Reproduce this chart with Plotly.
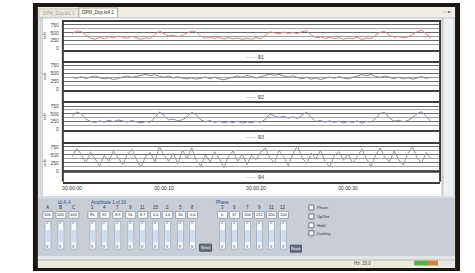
import plotly.graph_objects as go

W, H = 475, 273
def X(p): return p / W
def Y(p): return 1 - p / H

# ---------------- data ----------------
t = [0, 0.5, 1, 1.5, 2, 2.5, 3, 3.5, 4, 4.5, 5, 5.5, 6, 6.5, 7, 7.5, 8, 8.5, 9, 9.5,
     10, 10.5, 11, 11.5, 12, 12.5, 13, 13.5, 14, 14.5, 15, 15.5, 16, 16.5, 17, 17.5, 18, 18.5, 19, 19.5,
     20, 20.5, 21, 21.5, 22, 22.5, 23, 23.5, 24, 24.5, 25, 25.5, 26, 26.5, 27, 27.5, 28, 28.5, 29, 29.5,
     30, 30.5, 31, 31.5, 32, 32.5, 33, 33.5, 34, 34.5, 35, 35.5, 36, 36.5, 37, 37.5, 38, 38.5, 39]

ch1 = [480, 560, 540, 420, 330, 300, 350, 310, 380, 340, 400, 360, 330, 390, 350, 300, 340, 320, 450, 560,
       470, 400, 430, 380, 420, 480, 560, 520, 390, 330, 370, 320, 360, 300, 350, 310, 340, 290, 330, 300,
       350, 310, 420, 530, 500, 470, 520, 480, 510, 470, 540, 560, 430, 340, 370, 320, 360, 310, 350, 300,
       340, 310, 360, 290, 340, 320, 430, 520, 540, 420, 360, 380, 340, 370, 450, 530, 580, 470, 340]
ch2 = [380, 350, 400, 340, 390, 420, 370, 330, 360, 310, 350, 390, 420, 380, 410, 440, 470, 430, 460, 410,
       380, 420, 360, 400, 350, 330, 370, 320, 360, 390, 340, 380, 330, 300, 350, 390, 420, 380, 440, 410,
       360, 400, 450, 480, 440, 470, 420, 390, 430, 370, 340, 380, 320, 360, 310, 350, 390, 350, 400, 360,
       330, 380, 420, 460, 430, 470, 410, 380, 420, 370, 340, 380, 330, 370, 320, 360, 400, 350, 380]
ch3 = [420, 560, 500, 330, 250, 220, 270, 230, 290, 240, 300, 260, 230, 280, 240, 200, 250, 220, 380, 560,
       440, 300, 330, 270, 310, 400, 550, 470, 300, 240, 280, 220, 260, 200, 250, 210, 260, 190, 240, 210,
       260, 220, 320, 500, 430, 380, 420, 360, 400, 350, 460, 560, 380, 250, 280, 230, 270, 220, 260, 200,
       250, 220, 270, 190, 250, 230, 350, 520, 540, 360, 260, 290, 240, 280, 380, 500, 570, 400, 250]
ch4 = [450, 700, 520, 250, 600, 380, 150, 480, 300, 620, 420, 200, 500, 680, 350, 120, 450, 580, 280, 760,
       480, 300, 550, 220, 650, 400, 720, 330, 150, 500, 280, 600, 380, 100, 450, 620, 300, 520, 200, 480,
       350, 580, 720, 400, 250, 640, 450, 160, 530, 780, 420, 220, 560, 380, 640, 300, 120, 480, 600, 330,
       520, 250, 450, 680, 380, 150, 500, 720, 420, 280, 620, 350, 180, 540, 760, 400, 250, 580, 380]

series_names = ["Ф1", "Ф2", "Ф3", "Ф4"]
series_colors = ["#d98888", "#868c82", "#8a8eb2", "#9898a4"]
y_ticks = [0, 250, 500, 750]
y_ticktext = ["0", "250", "500", "750"]
y_minor = [125, 375, 625]
y_low = -30
x_ticks = [0, 10, 20, 30]
x_ticktext = ["00:00:00", "00:00:10", "00:00:20", "00:00:30"]

grp1_cols = ["A", "B", "C"]
grp1_vals = ["100", "100", "100"]
grp2_cols = ["1", "4", "7", "9", "11", "15", "2", "5", "8"]
grp2_vals = ["85", "92", "8.9", "56", "8.7", "0.0", "1.6", "16", "0.0"]
grp3_cols = ["3", "6", "7", "9", "11", "12"]
grp3_vals = ["0", "37", "100", "212", "100", "100"]
check_labels = ["Phase", "Up/Set", "Hold", "Dueling"]

# ---------------- figure ----------------
fig = go.Figure()
data = [ch1, ch2, ch3, ch4]
for k, vals in enumerate(data):
    sfx = "" if k == 0 else str(k + 1)
    fig.add_trace(go.Scatter(x=t, y=vals, mode="lines",
                             line=dict(color=series_colors[k], width=1),
                             xaxis="x" + sfx, yaxis="y" + sfx, showlegend=False,
                             name=series_names[k]))

FONT = "Liberation Sans"
# panel pixel spans (top, bottom); the last one extends to the outer frame
domains = [(22, 50), (63, 91), (104, 131), (145, 183)]
px_per_unit = 28 / 875.0
lay = {}
for k, (a, b) in enumerate(domains):
    sfx = "" if k == 0 else str(k + 1)
    lo = y_low if k < 3 else y_low - 10 / px_per_unit
    xa = dict(domain=[X(62), X(440)], range=[-1, 40], anchor="y" + sfx,
              showline=True, mirror=True, linecolor="#3c3c3c", linewidth=2,
              showgrid=False, zeroline=False, ticks="",
              tickvals=x_ticks, ticktext=x_ticktext,
              showticklabels=(k == 3), tickfont=dict(size=5, color="#333", family=FONT))
    ya = dict(domain=[Y(b), Y(a)], range=[lo, 845], anchor="x" + sfx,
              tickvals=y_ticks, ticktext=y_ticktext, ticks="",
              tickfont=dict(size=5, color="#444", family=FONT),
              showgrid=True, gridcolor="#6a6a6a", gridwidth=1,
              minor=dict(tickvals=y_minor, showgrid=True, gridcolor="#a0a0a0", gridwidth=1),
              zeroline=False, showline=False, ticklabelstandoff=3,
              title=dict(text="мкВ", font=dict(size=4, color="#555", family=FONT), standoff=4))
    lay["xaxis" + sfx] = xa
    lay["yaxis" + sfx] = ya

shapes = []
ann = []

def rect(x0, y0, x1, y1, fill, line=None, lw=1, layer="below"):
    shapes.append(dict(type="rect", xref="paper", yref="paper",
                       x0=X(x0), x1=X(x1), y0=Y(y1), y1=Y(y0),
                       fillcolor=fill, line=dict(color=line or fill, width=lw if line else 0),
                       layer=layer))

def hline(x0, x1, y, color, w=1, layer="above"):
    shapes.append(dict(type="line", xref="paper", yref="paper", x0=X(x0), x1=X(x1),
                       y0=Y(y), y1=Y(y), line=dict(color=color, width=w), layer=layer))

def vline(x, y0, y1, color, w=1, layer="above"):
    shapes.append(dict(type="line", xref="paper", yref="paper", x0=X(x), x1=X(x),
                       y0=Y(y0), y1=Y(y1), line=dict(color=color, width=w), layer=layer))

def txt(x, y, s, size=5, color="#333", xa="center"):
    ann.append(dict(x=X(x), y=Y(y), xref="paper", yref="paper", text=s, showarrow=False,
                    xanchor=xa, yanchor="middle", font=dict(size=size, color=color, family=FONT)))

# window frame
rect(32, 3, 460, 273, "#1c1713")
rect(37, 7, 455, 270, "#dde2ea")
rect(37, 7, 455, 18, "#f1eee3")
rect(38, 9, 78, 18, "#ebe8dc", "#c9c5b6")
rect(78, 8, 117, 18, "#fbfaf5", "#a9a598")
txt(58, 13.5, "DPM_Dop.kt1 1", 4.5, "#aaa392")
txt(97.5, 13, "DPM_Dop.kt4 2", 4.5, "#333")
txt(447, 12, "▫ ▫ ■", 4, "#666")
# chart panel
rect(40, 18, 442, 198, "#ffffff", "#b8c0cc")
rect(443, 18, 454, 198, "#eef0f4", "#c4cad4")
vline(41.5, 18, 198, "#c8ced8")
# plot frame
vline(62, 20, 183, "#3c3c3c", 2)
vline(440, 20, 183, "#3c3c3c", 2)
# bottom edge of the last panel's band
shapes.append(dict(type="line", xref="x4 domain", yref="y4", x0=0, x1=1, y0=y_low, y1=y_low,
                   line=dict(color="#3c3c3c", width=2), layer="above"))
# legends
leg_y = [57, 98, 138, 178]
for k, yy in enumerate(leg_y):
    txt(255, yy, "<span style='color:%s'>——</span> %s" % (series_colors[k], series_names[k]), 5, "#444")

# control panel
rect(37, 198, 455, 258, "#c9cdd6")
hline(37, 455, 198.5, "#e8ebf0", 1, "below")
rect(37, 258, 455, 262, "#e4e6ea")
rect(37, 262, 455, 270, "#ece9de")
hline(37, 455, 262, "#b8b8b0", 1, "below")
txt(362, 265.5, "Hz: 20.0", 4.5, "#444")
rect(414, 262.5, 428, 267.5, "#5cae52")
rect(428, 262.5, 438, 267.5, "#d9823e")
rect(438, 262.5, 452, 267.5, "#e6e6e6")

def slider_col(x, lab, val):
    txt(x, 209, lab, 4.5, "#333")
    rect(x - 5, 213, x + 5, 220, "#ffffff", "#9aa4b4")
    txt(x, 216.5, val, 4, "#222")
    rect(x - 3, 223, x + 3, 251, "#f5f8fd", "#a6b4ca")
    rect(x - 2.5, 232, x + 2.5, 244, "#cfdcf0")
    txt(x, 226, "^", 4.5, "#556")
    txt(x, 248.5, "v", 4.5, "#556")

txt(64, 203.5, "Ш А А", 4.5, "#2a4f8f")
for c, xx in enumerate([47, 60, 73]):
    slider_col(xx, grp1_cols[c], grp1_vals[c])
txt(108, 203.5, "Amplitude 1 of 16", 4.5, "#2a4f8f")
for c, xx in enumerate([92, 104, 117, 130, 142, 155, 167, 180, 192]):
    slider_col(xx, grp2_cols[c], grp2_vals[c])
rect(199, 246, 211, 253, "#6c7284", "#4a5060")
txt(205, 249.5, "Reset", 3.5, "#ffffff")
txt(222, 203.5, "Phase", 4.5, "#2a4f8f")
for c, xx in enumerate([222, 234, 247, 259, 271, 283]):
    slider_col(xx, grp3_cols[c], grp3_vals[c])
rect(290, 247, 301, 254, "#6c7284", "#4a5060")
txt(295.5, 250.5, "Reset", 3.5, "#ffffff")
for c, yy in enumerate([209, 218, 227, 235]):
    rect(308.5, yy - 2.5, 313.5, yy + 2.5, "#ffffff", "#6a7080")
    txt(315, yy, check_labels[c], 4, "#333", "left")

fig.update_layout(width=W, height=H, margin=dict(l=0, r=0, t=0, b=0),
                  paper_bgcolor="#ffffff", plot_bgcolor="rgba(0,0,0,0)",
                  shapes=shapes, annotations=ann, showlegend=False, **lay)
fig.write_html("out.html", config={"displayModeBar": False},
               post_script="document.body.style.margin='0';document.body.style.overflow='hidden';")
